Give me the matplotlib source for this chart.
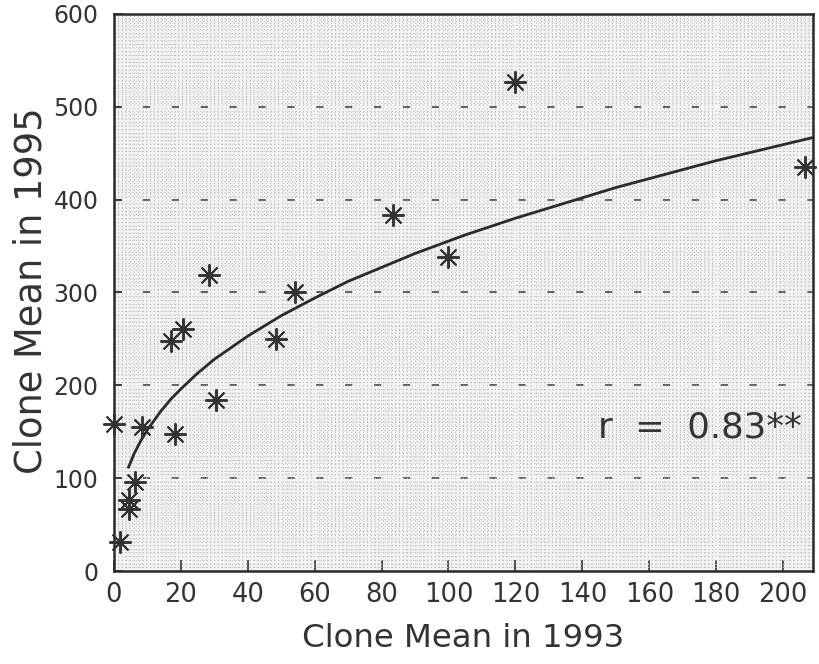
import numpy as np
import matplotlib.pyplot as plt
from matplotlib.ticker import MultipleLocator

plt.rcParams['font.family'] = ['DejaVu Sans']

# clone means
mean_1993 = [0.0, 1.8, 4.6, 4.6, 6.4, 8.4, 17.1, 18.4, 20.8, 28.4, 30.6,
             48.5, 54.0, 83.4, 99.9, 119.8, 206.5]
mean_1995 = [158, 31, 76, 67, 96, 155, 248, 148, 261, 319, 184,
             250, 300, 383, 338, 527, 435]

# fitted curve, points
fit_x = [4.4, 5, 6, 8, 10, 12, 14, 17, 20, 25, 30, 40, 50, 60, 70, 90, 105, 120, 150, 180, 209]
fit_y = [112, 117, 126, 140, 152, 162, 172, 185, 196, 213, 228, 253, 275, 294, 312, 342, 362, 380, 413, 442, 467]

r_text = 'r  =  0.83**'

ink = '#333333'

fig = plt.figure(figsize=(8.19, 6.64), dpi=100)
ax = fig.add_axes([0.139, 0.140, 0.854, 0.839])
ax.set_facecolor('#f3f3f3')

# stippled background as a fine dotted grid
ax.xaxis.set_minor_locator(MultipleLocator(1.2))
ax.yaxis.set_minor_locator(MultipleLocator(4))
ax.grid(which='minor', color='#bdbdbd', linestyle=(0, (1, 2.2)), linewidth=0.8)
ax.tick_params(which='minor', length=0)

# dashed lines at each 100
for yv in [100, 200, 300, 400, 500]:
    ax.axhline(yv, color='#555555', linestyle=(0, (4, 12)), linewidth=1.3, zorder=1.5)

ax.plot(fit_x, fit_y, color='#2a2a2a', linewidth=2.0, zorder=3)
ax.plot(mean_1993, mean_1995, linestyle='none', marker=(8, 2, 0), markersize=16,
        markeredgewidth=1.4, color='#333333', clip_on=False, zorder=4)

ax.text(0.692, 0.24, r_text, transform=ax.transAxes, fontsize=25.5, color=ink,
        va='baseline')

ax.set_xlim(0, 209)
ax.set_ylim(0, 600)
ax.set_xticks(np.arange(0, 201, 20))
ax.set_yticks(np.arange(0, 601, 100))
ax.tick_params(direction='in', length=8, width=1.2, colors=ink)
ax.tick_params(axis='x', labelsize=18.5, pad=8)
ax.tick_params(axis='y', length=6, labelsize=17, pad=11)
for s in ax.spines.values():
    s.set_linewidth(1.8)
    s.set_color('#2a2a2a')

ax.set_xlabel('Clone Mean in 1993', fontsize=23.3, color=ink, labelpad=11)
ax.set_ylabel('Clone Mean in 1995', fontsize=26.5, color=ink)
ax.yaxis.set_label_coords(-0.0916, 0.503)

fig.savefig('out.png', dpi=100)
